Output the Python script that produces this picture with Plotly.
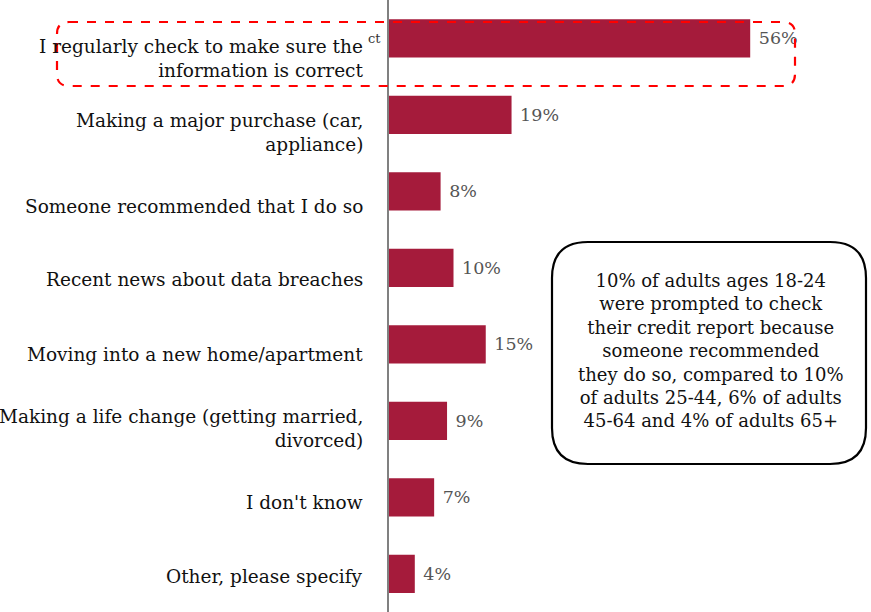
import plotly.graph_objects as go

# Reasons for checking credit report (share of respondents, %)
categories = [
    "I regularly check to make sure the<br>information is correct",
    "Making a major purchase (car,<br>appliance)",
    "Someone recommended that I do so",
    "Recent news about data breaches",
    "Moving into a new home/apartment",
    "Making a life change (getting married,<br>divorced)",
    "I don't know",
    "Other, please specify",
]
values = [56, 19, 8, 10, 15, 9, 7, 4]
value_labels = [f" {v}%" for v in values]

callout_text = (
    "10% of adults ages 18-24<br>were prompted to check<br>their credit report because<br>"
    "someone recommended<br>they do so, compared to 10%<br>of adults 25-44, 6% of adults<br>"
    "45-64 and 4% of adults 65+"
)

W, H = 871, 612
L = 389  # left margin in px (axis position)
BAR_COLOR = "#A51B3B"
FONT = "DejaVu Serif"
LABEL_SIZE = 18.5

fig = go.Figure()
fig.add_trace(go.Bar(
    x=values,
    y=list(range(len(values))),
    orientation="h",
    width=0.5,
    marker=dict(color=BAR_COLOR, line=dict(width=0)),
    text=value_labels,
    textposition="outside",
    textfont=dict(family=FONT, size=17.5, color="#555555"),
    cliponaxis=False,
    hoverinfo="skip",
))

pw = W - L


def px(x):
    return (x - L) / pw


def py(y):
    return 1 - y / H


# category labels to the left of the axis, on a slightly tighter pitch than the bars
label_font = dict(family=FONT, size=LABEL_SIZE, color="#111111")
for i, c in enumerate(categories):
    yc = 58 + i * 74
    fig.add_annotation(
        x=0, xref="paper", y=py(yc), yref="paper",
        xanchor="right", yanchor="middle", xshift=-24,
        text=c, showarrow=False, align="right", font=label_font,
    )

# stray fragment beside the first label
fig.add_annotation(
    x=px(374), xref="paper", y=py(38), yref="paper", xanchor="center", yanchor="middle",
    text="ct", showarrow=False,
    font=dict(family=FONT, size=13, color="#333333"),
)


def rounded_rect(x0, y0, x1, y1, r):
    return (
        f"M {px(x0 + r)} {py(y0)} L {px(x1 - r)} {py(y0)} "
        f"Q {px(x1)} {py(y0)} {px(x1)} {py(y0 + r)} "
        f"L {px(x1)} {py(y1 - r)} "
        f"Q {px(x1)} {py(y1)} {px(x1 - r)} {py(y1)} "
        f"L {px(x0 + r)} {py(y1)} "
        f"Q {px(x0)} {py(y1)} {px(x0)} {py(y1 - r)} "
        f"L {px(x0)} {py(y0 + r)} "
        f"Q {px(x0)} {py(y0)} {px(x0 + r)} {py(y0)} Z"
    )


# dashed highlight around the first item
fig.add_shape(
    type="path", xref="paper", yref="paper",
    path=rounded_rect(57, 22, 795, 86, 12),
    line=dict(color="#FF0000", width=2.2, dash="dash"),
    fillcolor="rgba(0,0,0,0)", layer="above",
)

# callout box
fig.add_shape(
    type="path", xref="paper", yref="paper",
    path=rounded_rect(552, 242, 866, 464, 36),
    line=dict(color="#000000", width=2.2),
    fillcolor="rgba(255,255,255,1)", layer="above",
)
fig.add_annotation(
    x=px(711), xref="paper", y=py(350), yref="paper",
    xanchor="center", yanchor="middle", text=callout_text,
    showarrow=False, align="center",
    font=dict(family=FONT, size=18, color="#111111"),
)

fig.update_layout(
    width=W, height=H,
    margin=dict(l=L, r=0, t=0, b=0),
    paper_bgcolor="white", plot_bgcolor="white",
    showlegend=False,
    xaxis=dict(range=[0, pw / 6.45], visible=False, fixedrange=True),
    yaxis=dict(
        range=[7.5, -0.5], showticklabels=False, showgrid=False,
        zeroline=False, showline=True, linecolor="#808080", linewidth=2,
        ticks="",
    ),
    bargap=0.5,
)

fig.write_html("out.html")
